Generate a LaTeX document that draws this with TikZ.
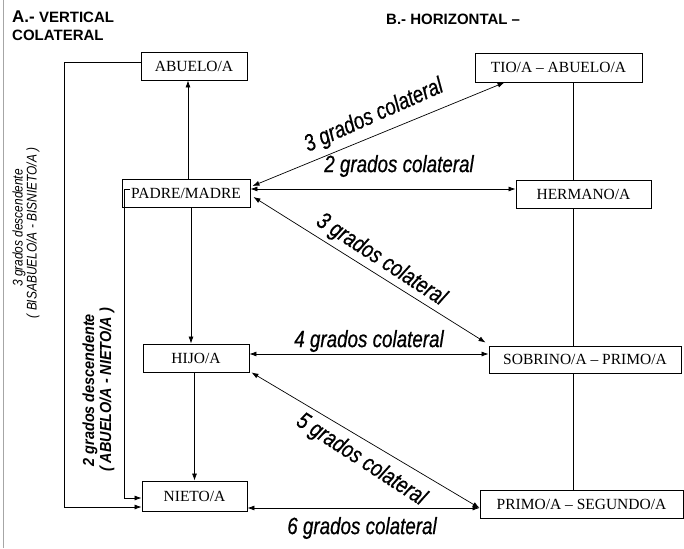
\documentclass[tikz,border=0pt]{standalone}
\usepackage{fontspec}
\setmainfont{Liberation Serif}
\newfontfamily\arialf{Liberation Sans}
\newfontfamily\labf[FakeStretch=0.8,FakeBold=0.6]{Liberation Sans}
\newfontfamily\vthreef[FakeStretch=0.85]{Liberation Sans}
\newfontfamily\vtwof[FakeStretch=0.9]{Liberation Sans}
\usetikzlibrary{arrows.meta,calc}
\begin{document}
\begin{tikzpicture}[x=1pt,y=-1pt,
  box/.style={draw, line width=0.9pt, fill=white, inner sep=0pt, font=\fontsize{15.5}{18}\selectfont},
  lnk/.style={line width=0.7pt},
  arr/.style={lnk, -{Latex[length=7pt,width=5pt]}},
  darr/.style={lnk, {Latex[length=7pt,width=5pt]}-{Latex[length=7pt,width=5pt]}},
  lab/.style={font=\labf\itshape\fontsize{23.5}{25}\selectfont, inner sep=0pt},
  ttl/.style={anchor=base west, inner sep=0pt, font=\arialf\bfseries\fontsize{15}{17}\selectfont},
  vthree/.style={rotate=90, inner sep=0pt, font=\vthreef\itshape\fontsize{14}{16}\selectfont},
  vtwo/.style={rotate=90, inner sep=0pt, font=\vtwof\bfseries\itshape\fontsize{16}{18}\selectfont},
]
\useasboundingbox (0,0) rectangle (684,548);
\fill[white] (0,0) rectangle (684,548);

% scan frame line at the left edge
\draw[gray!70, line width=1pt] (3,0) coordinate (ftop) -- (3,548) coordinate (fbot);

% titles
\node[ttl] (ta) at (12,23) {{\fontsize{17}{17}\selectfont A.-} VERTICAL};
\node[ttl] (tb) at (12,41) {COLATERAL};
\node[ttl] (tc) at (386,25) {B.- HORIZONTAL –};

% boxes
\node[box, minimum width=106, minimum height=28] (abuelo) at (194,66) {ABUELO/A};
\node[box, minimum width=167, minimum height=29] (tio) at (558.5,67.5) {TIO/A – ABUELO/A};
\node[box, minimum width=128, minimum height=28] (padre) at (186,193) {PADRE/MADRE};
\node[box, minimum width=106, minimum height=28] (hijo) at (196,358) {HIJO/A};
\node[box, minimum width=105, minimum height=30] (nieto) at (194.5,496) {NIETO/A};
\node[box, minimum width=135, minimum height=28] (hermano) at (583.5,194) {HERMANO/A};
\node[box, minimum width=192, minimum height=27] (sobrino) at (585,359.5) {SOBRINO/A – PRIMO/A};
\node[box, minimum width=203, minimum height=28] (primo2) at (581.5,504) {PRIMO/A – SEGUNDO/A};

% vertical line
\coordinate (vx) at (573,0);
\draw[lnk] (tio.south -| vx) -- (hermano.north -| vx);
\draw[lnk] (hermano.south -| vx) -- (sobrino.north -| vx);
\draw[lnk] (sobrino.south -| vx) -- (primo2.north -| vx);

% vertical arrows
\draw[arr] ([xshift=2pt]padre.north) -- ([xshift=-6pt]abuelo.south);
\draw[arr] ([xshift=5pt]padre.south) -- ([xshift=-5pt]hijo.north);
\draw[arr] (hijo.south -| nieto.north) -- (nieto.north);
\draw[arr] ([yshift=4pt]abuelo.west) -- ++(-76,0) |- ([yshift=-11pt]nieto.west);
\draw[arr] ([shift={(8pt,4pt)}]padre.west) -- ([shift={(3pt,4pt)}]padre.west) |- ([yshift=-2pt]nieto.west);

% collateral arrows
\draw[darr] ([shift={(2pt,7pt)}]padre.east) -- ([xshift=30pt]tio.south west);
\draw[darr] ([yshift=4pt]padre.east) -- ([yshift=4pt]padre.east -| hermano.west);
\draw[darr] ([shift={(3pt,-4pt)}]padre.east) -- ([shift={(-3pt,3pt)}]sobrino.north west);
\draw[darr] ([yshift=4pt]hijo.east) -- ([yshift=4pt]hijo.east -| sobrino.west);
\draw[darr] ([xshift=2pt]hijo.south east) -- ([yshift=-4pt]primo2.west);
\draw[darr] ([yshift=-12pt]nieto.east) -- ([yshift=-12pt]nieto.east -| primo2.west);

% labels
\node[lab, rotate=24] (l3a) at (374,116) {3 grados colateral};
\node[lab] (l2) at (399,166) {2 grados colateral};
\node[lab, rotate=-33] (l3b) at (381,260) {3 grados colateral};
\node[lab] (l4) at (369,341) {4 grados colateral};
\node[lab, rotate=-33] (l5) at (361,460) {5 grados colateral};
\node[lab] (l6) at (362,528) {6 grados colateral};

% vertical labels
\node[vthree] (v3a) at (19,228) {3 grados descendente};
\node[vthree] (v3b) at (33,233) {( BISABUELO/A - BISNIETO/A )};
\node[vtwo] (v2a) at (90,390) {2 grados descendente};
\node[vtwo] (v2b) at (107,390) {( ABUELO/A - NIETO/A )};
\end{tikzpicture}
\end{document}
